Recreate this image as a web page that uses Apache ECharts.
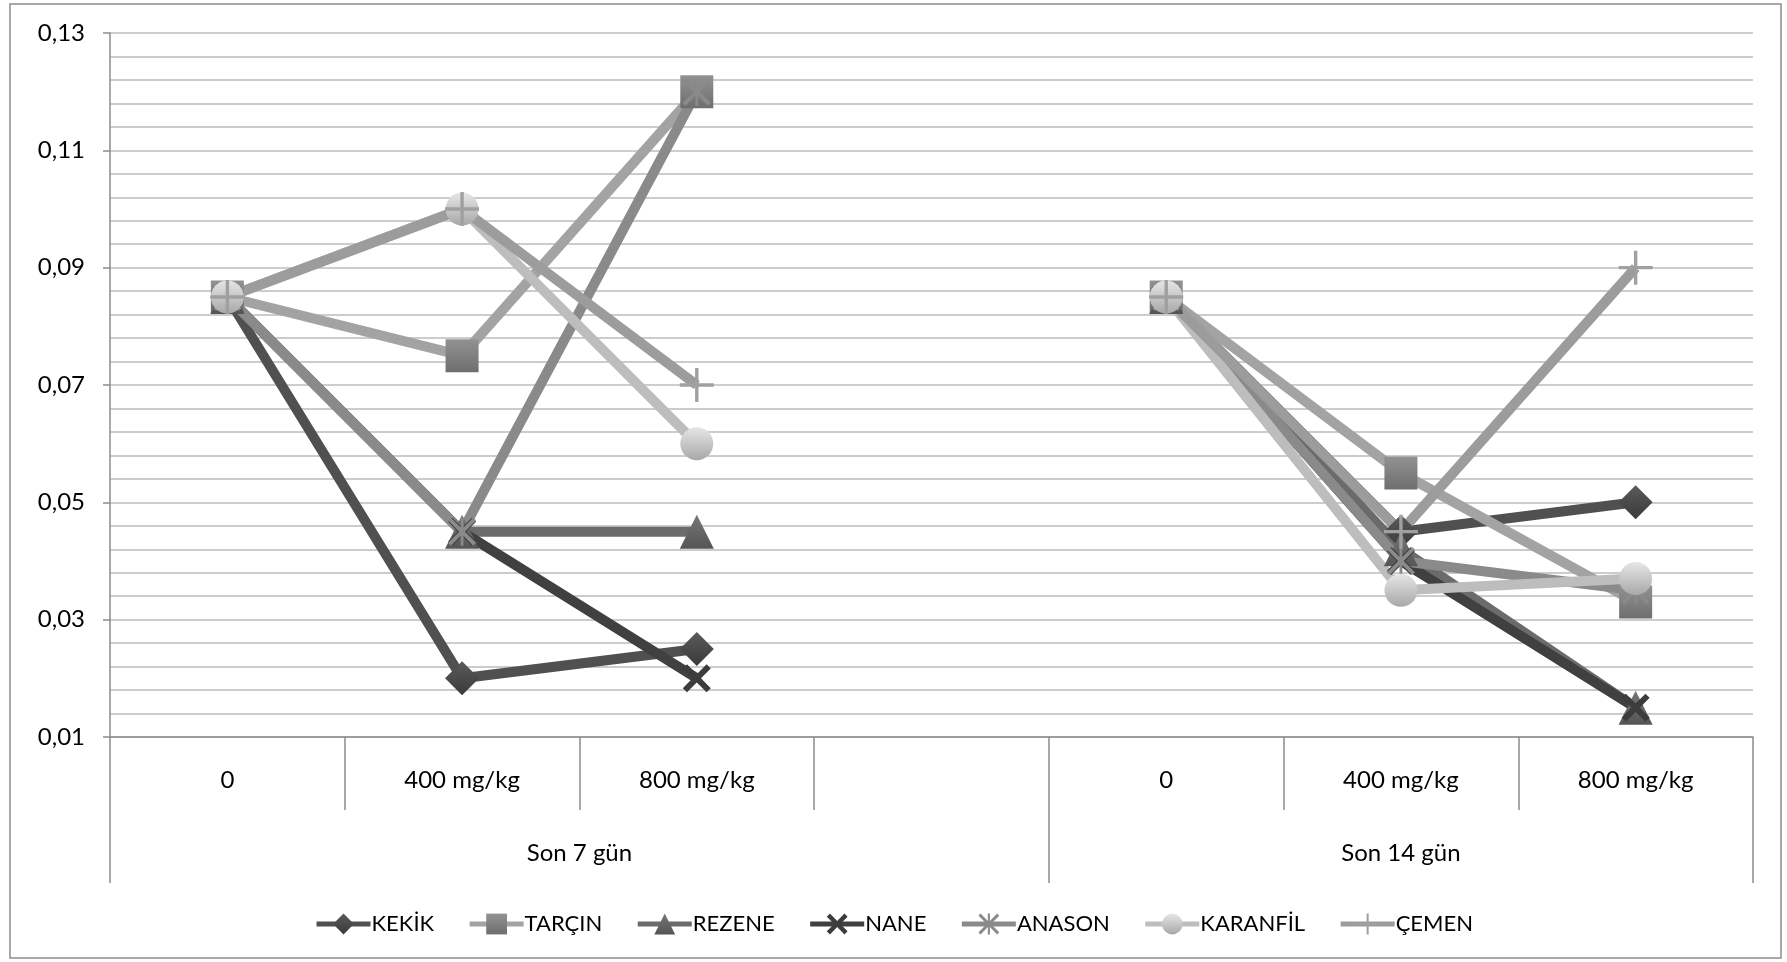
<!DOCTYPE html>
<html>
<head>
<meta charset="utf-8">
<script src="https://cdn.jsdelivr.net/npm/echarts@6/dist/echarts.min.js"></script>
<style>
html,body{margin:0;padding:0;background:#fff;}
#c{width:1787px;height:962px;}
</style>
</head>
<body>
<div id="c"></div>
<script>
// ---- data ----
var categories = ['0', '400 mg/kg', '800 mg/kg', '', '0', '400 mg/kg', '800 mg/kg'];
var groups = ['Son 7 gün', 'Son 14 gün'];
var groupSizes = [4, 3];
var seriesNames = ['KEKİK', 'TARÇIN', 'REZENE', 'NANE', 'ANASON', 'KARANFİL', 'ÇEMEN'];
var kekik    = [0.085, 0.020, 0.025, null, 0.085, 0.045, 0.050];
var tarcin   = [0.085, 0.075, 0.120, null, 0.085, 0.055, 0.033];
var rezene   = [0.085, 0.045, 0.045, null, 0.085, 0.042, 0.015];
var nane     = [0.085, 0.045, 0.020, null, 0.085, 0.040, 0.015];
var anason   = [0.085, 0.045, 0.120, null, 0.085, 0.040, 0.035];
var karanfil = [0.085, 0.100, 0.060, null, 0.085, 0.035, 0.037];
var cemen    = [0.085, 0.100, 0.070, null, 0.085, 0.045, 0.090];
var yTicks = ['0,01', '0,03', '0,05', '0,07', '0,09', '0,11', '0,13'];

// ---- styling ----
var X_PATH = 'path://M0,3 L3,0 L10,7 L17,0 L20,3 L13,10 L20,17 L17,20 L10,13 L3,20 L0,17 L7,10 Z';
var PLUS_PATH = 'path://M9,0 H11 V9 H20 V11 H11 V20 H9 V11 H0 V9 H9 Z';
var AST_PATH = 'path://M0,2 L2,0 L10,8 L18,0 L20,2 L12,10 L20,18 L18,20 L10,12 L2,20 L0,18 L8,10 Z M9,0 H11 V20 H9 Z';
function grad(light, dark) {
  return new echarts.graphic.LinearGradient(0, 0, 0, 1, [
    {offset: 0, color: light}, {offset: 1, color: dark}
  ]);
}
var styles = [
  {line:'#505050', mark:grad('#5a5a5a', '#3a3a3a'), symbol:'diamond', size:34},
  {line:'#a3a3a3', mark:grad('#929292', '#6e6e6e'), symbol:'rect', size:33},
  {line:'#6b6b6b', mark:grad('#767676', '#555555'), symbol:'triangle', size:34},
  {line:'#404040', mark:'#3c3c3c', symbol:X_PATH, size:28},
  {line:'#8a8a8a', mark:'#8a8a8a', symbol:AST_PATH, size:28},
  {line:'#bdbdbd', mark:grad('#e6e6e6', '#a8a8a8'), symbol:'circle', size:33},
  {line:'#9c9c9c', mark:'#a0a0a0', symbol:PLUS_PATH, size:34}
];
var allData = [kekik, tarcin, rezene, nane, anason, karanfil, cemen];

var bounds = [0];
var centers = [];
groupSizes.forEach(function (s) {
  var start = bounds[bounds.length - 1];
  centers.push(start + s / 2);
  bounds.push(start + s);
});

var FONT = 'Lato';
var chart = echarts.init(document.getElementById('c'), null, {renderer: 'canvas'});

var series = seriesNames.map(function (n, i) {
  var st = styles[i];
  return {
    name: n,
    type: 'line',
    data: allData[i],
    symbol: st.symbol,
    symbolSize: st.size,
    showAllSymbol: true,
    connectNulls: false,
    lineStyle: {color: st.line, width: 10, join: 'round'},
    itemStyle: {color: st.mark, borderWidth: 0},
    emphasis: {disabled: true},
    animation: false
  };
});

chart.setOption({
  animation: false,
  backgroundColor: '#fff',
  textStyle: {fontFamily: FONT},
  graphic: [{
    type: 'rect', shape: {x: 10, y: 4, width: 1771, height: 954},
    style: {fill: 'none', stroke: '#8c8c8c', lineWidth: 1.5}, silent: true, z: -1
  }],
  grid: {left: 110, right: 34, top: 33, bottom: 225, containLabel: false},
  legend: {
    top: 908, left: 'center',
    itemWidth: 54, itemHeight: 26, itemGap: 33,
    lineStyle: {width: 5},
    textStyle: {fontFamily: FONT, fontSize: 22, color: '#000', padding: [0, 0, 0, -4]},
    data: seriesNames
  },
  xAxis: [{
    type: 'category',
    data: categories,
    boundaryGap: true,
    axisLine: {lineStyle: {color: '#8c8c8c', width: 1.5}},
    axisTick: {show: true, interval: 0, length: 73, lineStyle: {color: '#8c8c8c', width: 1.5}},
    axisLabel: {interval: 0, margin: 31, fontFamily: FONT, fontSize: 24, color: '#000'},
    splitLine: {show: false}
  }, {
    type: 'value', min: 0, max: bounds[bounds.length - 1],
    position: 'bottom',
    axisLine: {show: false},
    axisTick: {show: true, customValues: bounds, length: 146, lineStyle: {color: '#8c8c8c', width: 1.5}},
    axisLabel: {
      customValues: centers, margin: 104, fontFamily: FONT, fontSize: 24, color: '#000',
      formatter: function (v) {
        var idx = centers.indexOf(v);
        return idx >= 0 ? groups[idx] : '';
      }
    },
    splitLine: {show: false}
  }],
  yAxis: {
    type: 'value',
    min: 0.01, max: 0.13, interval: 0.02,
    axisLine: {show: true, lineStyle: {color: '#8c8c8c', width: 1.5}},
    axisTick: {show: true, length: 7, lineStyle: {color: '#8c8c8c', width: 1.5}},
    axisLabel: {
      margin: 25, fontFamily: FONT, fontSize: 24, color: '#000',
      formatter: function (v) {
        var i = Math.round((v - 0.01) / 0.02);
        return yTicks[i] !== undefined ? yTicks[i] : '';
      }
    },
    splitLine: {show: true, lineStyle: {color: '#bcbcbc', width: 1.5}},
    minorTick: {show: false, splitNumber: 5},
    minorSplitLine: {show: true, lineStyle: {color: '#bcbcbc', width: 1.5}}
  },
  series: series
});
</script>
</body>
</html>
